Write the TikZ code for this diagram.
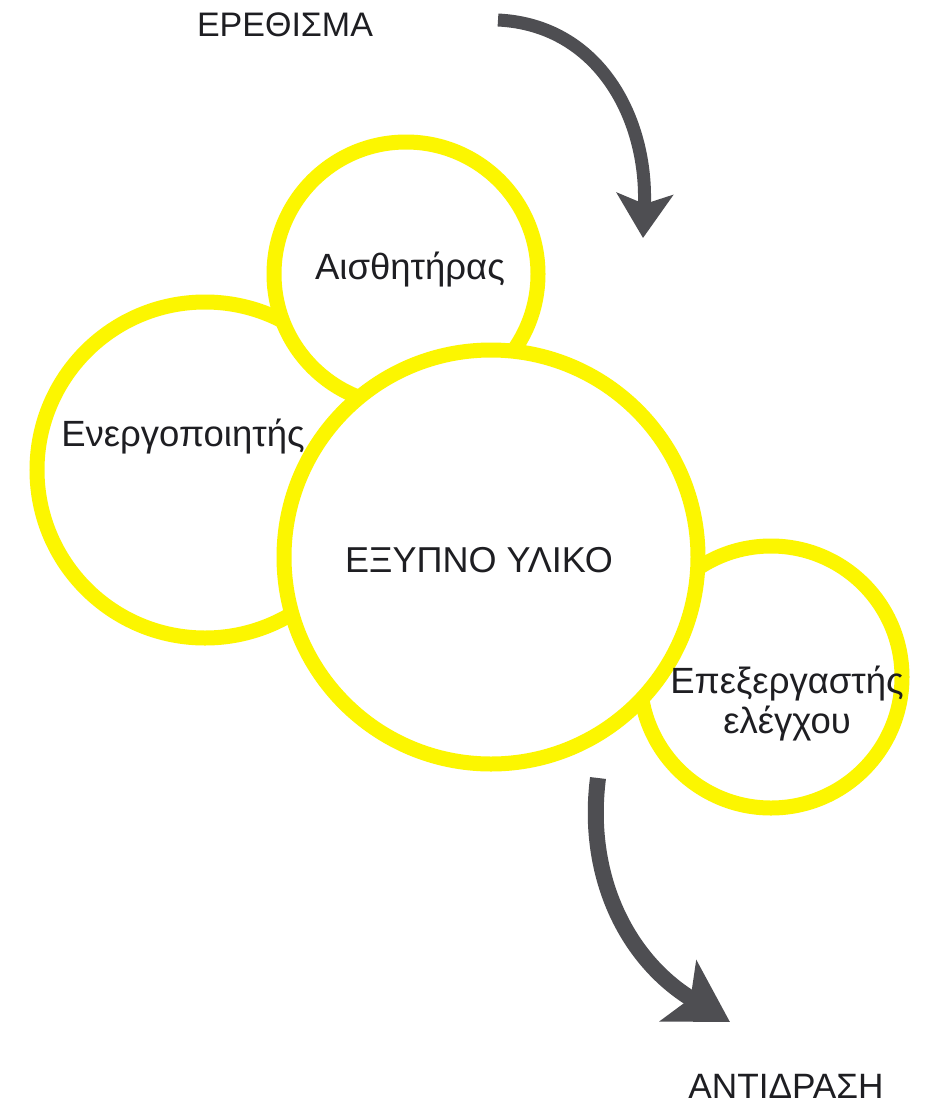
\documentclass[tikz,border=0pt]{standalone}
\usepackage{fontspec}
\setmainfont{Liberation Sans}
\usepackage{tikz}
\usetikzlibrary{arrows.meta}
\definecolor{ringyellow}{RGB}{252,246,0}
\definecolor{arrowgray}{RGB}{78,78,82}
\definecolor{textgray}{RGB}{30,30,34}
\tikzset{
    >=Stealth,
    ring/.style={circle, draw=ringyellow, line width=15pt, fill=white, inner sep=0pt},
    caps/.style={font=\fontsize{#1}{40}\selectfont, text=textgray, inner sep=0pt},
    word/.style={font=\fontsize{36.5}{40}\selectfont, text=textgray, inner sep=0pt, align=center},
    flowarrow/.style={draw=arrowgray, line width=#1}
}

\begin{document}
\begin{tikzpicture}[x=1pt, y=-1pt]
    \fill[white] (0,0) rectangle (929,1106);
    \useasboundingbox (0,0) rectangle (929,1106);

    % circles, back to front
    \node[ring, minimum size=336pt] (actuator) at (205,470) {};
    \node[ring, minimum size=264pt] (sensor) at (406,274) {};
    \node[ring, minimum size=262pt] (processor) at (771,677) {};
    \node[ring, minimum size=414pt] (material) at (491,557) {};

    % texts
    \node[caps=34] (stimulus) at (285,25) {ΕΡΕΘΙΣΜΑ};
    \node[caps=35.2] (response) at (786,1086) {ΑΝΤΙΔΡΑΣΗ};
    \node[caps=36] (materialtxt) at (479,560) {ΕΞΥΠΝΟ ΥΛΙΚΟ};
    \node[word, anchor=base] (actuatortxt) at (183,446) {Ενεργοποιητής};
    \node[word, anchor=base] (sensortxt) at (410,279) {Αισθητήρας};
    \node[word] (processortxt) at (787,704) {Επεξεργαστής\\ελέγχου};

    % arrows
    \coordinate (in-start) at (498,20);
    \coordinate (in-end) at (643,238);
    \coordinate (out-start) at (598,778);
    \coordinate (out-end) at (730,1022);
    \draw[flowarrow=13pt, -{Stealth[length=44pt, width=56pt, inset=10pt]}]
        (in-start) .. controls +(102,5) and +(5,-118) .. (in-end);
    \draw[flowarrow=16pt, -{Stealth[length=60pt, width=70pt, inset=14pt]}]
        (out-start) .. controls +(-13,102) and +(-100,-60) .. (out-end);
\end{tikzpicture}
\end{document}
